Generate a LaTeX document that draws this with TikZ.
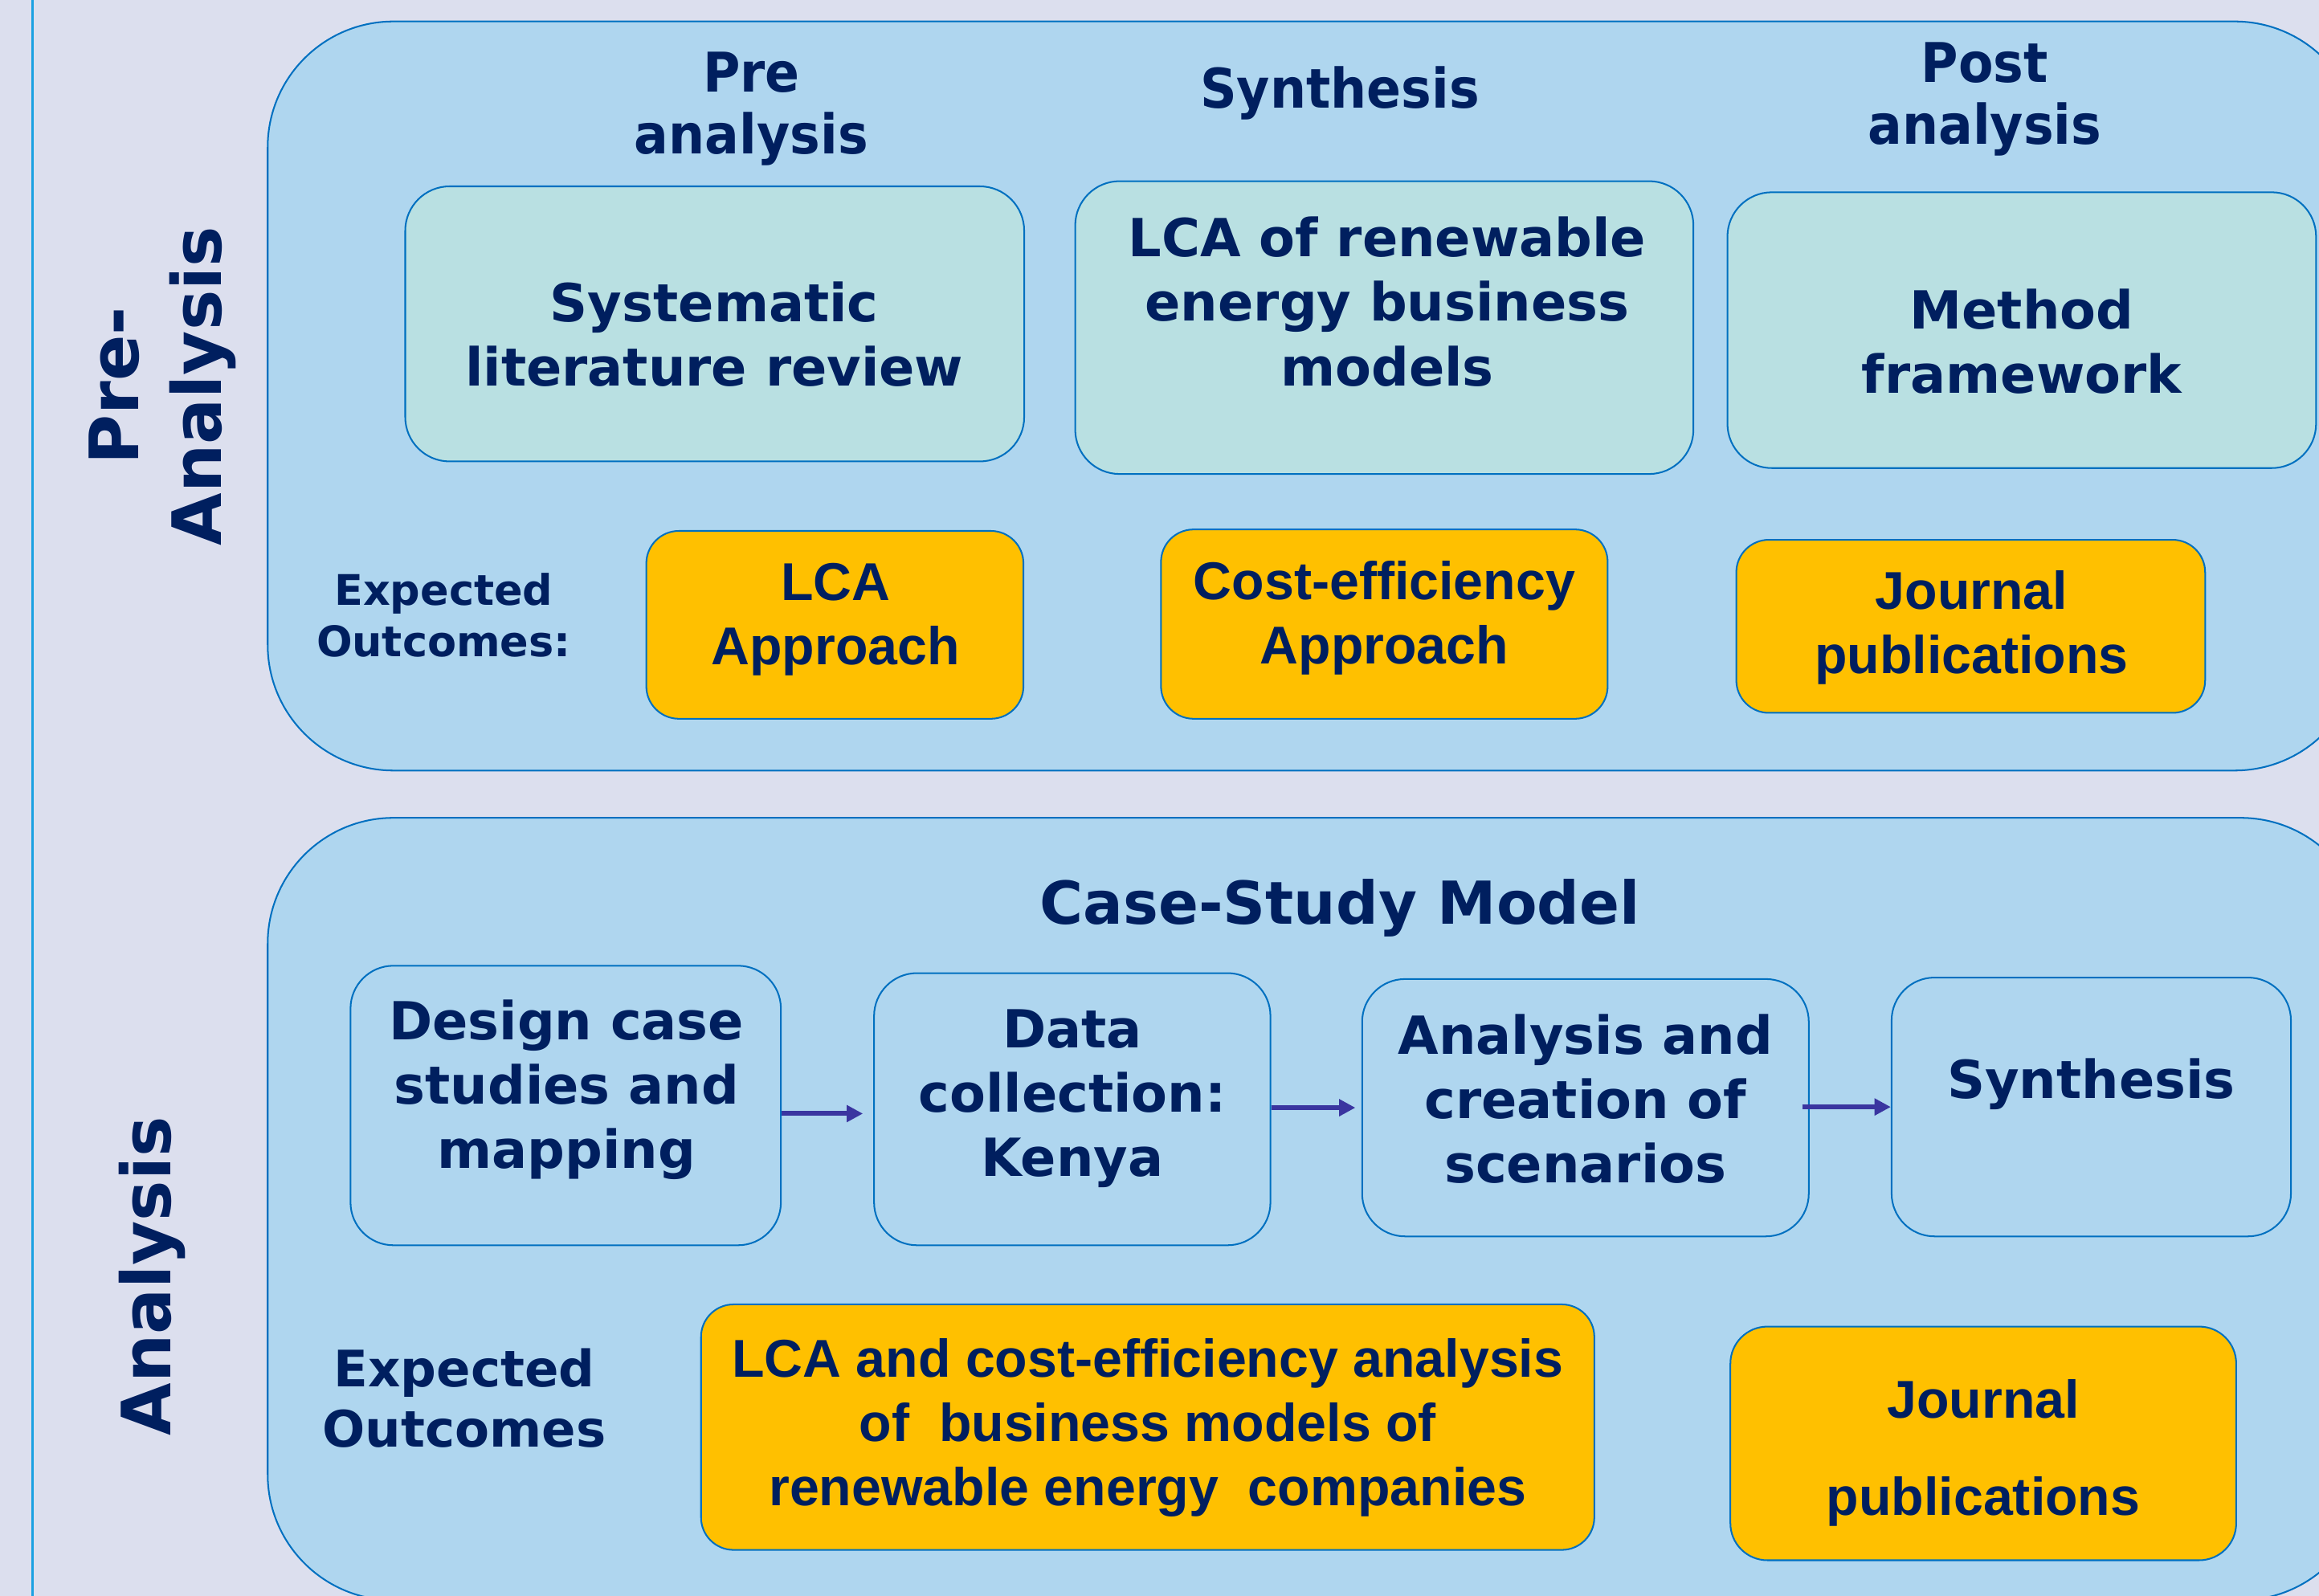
\documentclass[tikz,border=0pt]{standalone}
\usepackage{fontspec}
\newfontfamily\verd{DejaVu Sans}
\newfontfamily\tah{DejaVu Sans}[FakeStretch=0.93]
\newfontfamily\ari{Liberation Sans}
\usetikzlibrary{arrows.meta}
\definecolor{bgc}{HTML}{DCDFEE}
\definecolor{bigfill}{HTML}{AFD6EF}
\definecolor{bord}{HTML}{0070C0}
\definecolor{grn}{HTML}{B9E0E2}
\definecolor{orng}{HTML}{FFC000}
\definecolor{navy}{HTML}{001F5F}
\definecolor{arrc}{HTML}{3A35A0}
\definecolor{vlc}{HTML}{1BA1E2}
\begin{document}
\begin{tikzpicture}[x=1pt,y=-1pt,
  bigbox/.style={fill=bigfill,draw=bord,line width=1.1pt,rounded corners=85pt},
  gbox/.style={rectangle,fill=grn,draw=bord,line width=1.1pt,rounded corners=30pt,inner sep=0pt},
  pbox/.style={rectangle,fill=bigfill,draw=bord,line width=1.1pt,rounded corners=29pt,inner sep=0pt},
  obox/.style={rectangle,fill=orng,draw=bord,line width=1.1pt,rounded corners=22pt,inner sep=0pt},
  txt/.style={text=navy,align=center,inner sep=0pt},
  vtxt/.style={txt,font=\verd\bfseries\fontsize{35.5}{43.5}\selectfont},
  htxt/.style={txt,font=\tah\bfseries\fontsize{37}{42}\selectfont},
  atxt/.style={txt,font=\ari\bfseries\fontsize{36}{43.5}\selectfont},
  sidetxt/.style={txt,font=\verd\bfseries\fontsize{46}{56}\selectfont,rotate=90},
  arr/.style={draw=arrc,line width=3.2pt,-{Triangle[length=11pt,width=11pt]}}
]
\useasboundingbox (0,0) rectangle (1568,1079);
\fill[bgc] (0,0) rectangle (1568,1079);
\begin{scope}
\clip (0,0) rectangle (1568,1079);
\draw[vlc,line width=1.2pt] (22,-5) -- (22,1085);
\draw[bigbox] (181,14.5) rectangle (1596,521);
\draw[bigbox] (181,553) rectangle (1600,1082);
\end{scope}

% side labels
\node[sidetxt] (lpre) at (110,261) {Pre-\\Analysis};
\node[sidetxt] (lana) at (103,863) {Analysis};

% headers
\node[htxt] (hpre) at (508,73.5) {Pre\\analysis};
\node[htxt] (hsyn) at (906,63) {Synthesis};
\node[htxt] (hpost) at (1342,67) {Post\\analysis};

% green boxes
\node[gbox,minimum width=418.5pt,minimum height=186pt] (g1) at (483.25,219) {};
\node[gbox,minimum width=418pt,minimum height=198pt] (g2) at (936,221.5) {};
\node[gbox,minimum width=398pt,minimum height=186.5pt] (g3) at (1367,223.25) {};
\node[vtxt] (g1t) at (483,226) {Systematic\\literature review};
\node[vtxt] (g2t) at (938,204) {LCA of renewable\\energy business\\models};
\node[vtxt] (g3t) at (1367,231) {Method\\framework};

% expected outcomes (top)
\node[txt,font=\verd\bfseries\fontsize{28.5}{35}\selectfont] (eo1) at (300,416) {Expected\\Outcomes:};

% orange boxes (top)
\node[obox,minimum width=255pt,minimum height=127pt] (o1) at (564.5,422.5) {};
\node[obox,minimum width=302pt,minimum height=128pt] (o2) at (936,422) {};
\node[obox,minimum width=317pt,minimum height=117pt] (o3) at (1332.5,423.5) {};
\node[atxt] (o1t) at (565,419) {LCA\\Approach};
\node[atxt] (o2t) at (936,418) {Cost-efficiency\\Approach};
\node[atxt] (o3t) at (1333,424.5) {Journal\\publications};

% bottom section
\node[txt,font=\verd\bfseries\fontsize{40}{48}\selectfont] (cs) at (906,614) {Case-Study Model};

\node[pbox,minimum width=291pt,minimum height=189pt] (d1) at (382.5,747.5) {};
\node[pbox,minimum width=268pt,minimum height=184pt] (d2) at (725,750) {};
\node[pbox,minimum width=302pt,minimum height=174pt] (d3) at (1072,749) {};
\node[pbox,minimum width=270pt,minimum height=175pt] (d4) at (1414,748.5) {};
\node[vtxt] (d1t) at (383,737) {Design case\\studies and\\mapping};
\node[vtxt] (d2t) at (725,743) {Data\\collection:\\Kenya};
\node[vtxt] (d3t) at (1072,743) {Analysis and\\creation of\\scenarios};
\node[vtxt] (d4t) at (1414,733) {Synthesis};

\draw[arr,shorten >=7pt] (d1.east |- 0,753) -- (d2.west |- 0,753);
\draw[arr,shorten >=4pt] (d2.east |- d3.west) -- (d3.west);
\draw[arr,shorten <=-5pt] (d3.east |- d4.west) -- (d4.west);

\node[txt,font=\verd\bfseries\fontsize{34}{41}\selectfont] (eo2) at (314,945.5) {Expected\\Outcomes};

\node[obox,minimum width=604pt,minimum height=166pt] (o4) at (776,965) {};
\node[obox,minimum width=342pt,minimum height=158pt,rounded corners=25pt] (o5) at (1341,976) {};
\node[atxt] (o4t) at (776,965.5) {LCA and cost-efficiency analysis\\of\ \ business models of\\renewable energy\ \ companies};
\node[txt,font=\ari\bfseries\fontsize{36}{66}\selectfont] (o5t) at (1341,982.5) {Journal\\publications};
\end{tikzpicture}
\end{document}
